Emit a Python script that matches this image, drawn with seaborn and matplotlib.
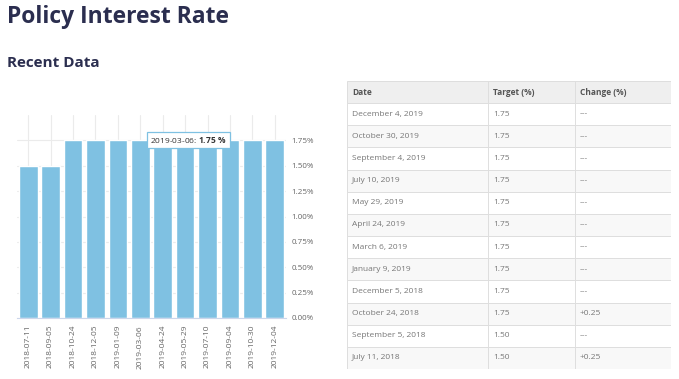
import matplotlib
matplotlib.use("Agg")
import matplotlib.pyplot as plt
import seaborn as sns
import pandas as pd
from matplotlib.patches import Rectangle
from matplotlib.ticker import FuncFormatter

# chart data
dates = ["2018-07-11", "2018-09-05", "2018-10-24", "2018-12-05", "2019-01-09", "2019-03-06",
         "2019-04-24", "2019-05-29", "2019-07-10", "2019-09-04", "2019-10-30", "2019-12-04"]
rates = [1.50, 1.50, 1.75, 1.75, 1.75, 1.75, 1.75, 1.75, 1.75, 1.75, 1.75, 1.75]

# table data
tbl_header = ["Date", "Target (%)", "Change (%)"]
tbl_dates = ["December 4, 2019", "October 30, 2019", "September 4, 2019", "July 10, 2019",
             "May 29, 2019", "April 24, 2019", "March 6, 2019", "January 9, 2019",
             "December 5, 2018", "October 24, 2018", "September 5, 2018", "July 11, 2018"]
tbl_target = ["1.75", "1.75", "1.75", "1.75", "1.75", "1.75",
              "1.75", "1.75", "1.75", "1.75", "1.50", "1.50"]
tbl_change = ["---", "---", "---", "---", "---", "---",
              "---", "---", "---", "+0.25", "---", "+0.25"]

sns.set_style("white")
plt.rcParams['font.family'] = ['Open Sans', 'DejaVu Sans']
plt.rcParams['mathtext.fontset'] = 'custom'
plt.rcParams['mathtext.bf'] = 'Open Sans:bold'
plt.rcParams['mathtext.rm'] = 'Open Sans'

W, H = 679, 379
fig = plt.figure(figsize=(W / 100, H / 100), dpi=100)
fig.patch.set_facecolor("white")

navy = "#2b2e4f"
fig.text(7 / W, 1 - 17 / H, "Policy Interest Rate", fontsize=16.5, fontweight="bold",
         color=navy, va="center", ha="left")
fig.text(7 / W, 1 - 63 / H, "Recent Data", fontsize=11, fontweight="bold",
         color=navy, va="center", ha="left")

# bar chart
df = pd.DataFrame({"date": dates, "rate": rates})
ax = fig.add_axes([17 / W, 1 - 318 / H, (286 - 17) / W, (318 - 115) / H])
sns.barplot(data=df, x="date", y="rate", color="#7fc1e2", saturation=1, width=0.83, ax=ax)
ax.set_ylim(0, 2.0)
ax.set_xlim(-0.5, len(dates) - 0.5)
ax.set_yticks([0, 0.25, 0.5, 0.75, 1.0, 1.25, 1.5, 1.75])
ax.yaxis.set_major_formatter(FuncFormatter(lambda v, p: f"{v:.2f}%"))
ax.yaxis.tick_right()
ax.set_xlabel("")
ax.set_ylabel("")
ax.grid(True, color="#ebebeb", linewidth=0.8)
ax.set_axisbelow(True)
for s in ["top", "left", "right"]:
    ax.spines[s].set_visible(False)
ax.spines["bottom"].set_color("#ccd6eb")
ax.tick_params(axis="y", length=0, labelsize=5.8, labelcolor="#666666", pad=4)
ax.tick_params(axis="x", length=3, color="#ccd6eb", labelsize=6, labelcolor="#666666",
               rotation=90, pad=2)

# tooltip
ax.annotate(r"2019-03-06: $\bf{1.75\ \%}$", xy=(5, 1.75), xytext=(7, 0),
            textcoords="offset points", fontsize=6, color="#333333", va="center", ha="left",
            bbox=dict(boxstyle="square,pad=0.35", fc="white", ec="#7fc1e2", lw=0.9))

# table
tx0, ty0, tw, th = 347, 81, 324, 288
tax = fig.add_axes([tx0 / W, 1 - (ty0 + th) / H, tw / W, th / H])
tax.set_xlim(0, tw)
tax.set_ylim(th, 0)
tax.axis("off")
rh = th / (len(tbl_dates) + 1)
col_x = [0, 141, 228, tw]
rows = [tbl_header] + [[d, t, c] for d, t, c in zip(tbl_dates, tbl_target, tbl_change)]
for i, row in enumerate(rows):
    if i == 0:
        bg = "#efefef"
    elif i % 2 == 0:
        bg = "#f8f8f8"
    else:
        bg = "white"
    tax.add_patch(Rectangle((0, i * rh), tw, rh, facecolor=bg, edgecolor="#dedede", lw=0.7))
    for j, val in enumerate(row):
        tax.text(col_x[j] + 5, i * rh + rh / 2, val, fontsize=6.0 if i else 6.0,
                 fontweight="bold" if i == 0 else "normal",
                 color="#555555" if i == 0 else "#777777", va="center", ha="left")
for cx in col_x[1:-1]:
    tax.plot([cx, cx], [0, th], color="#dedede", lw=0.7)

fig.savefig("out.png", dpi=100)
